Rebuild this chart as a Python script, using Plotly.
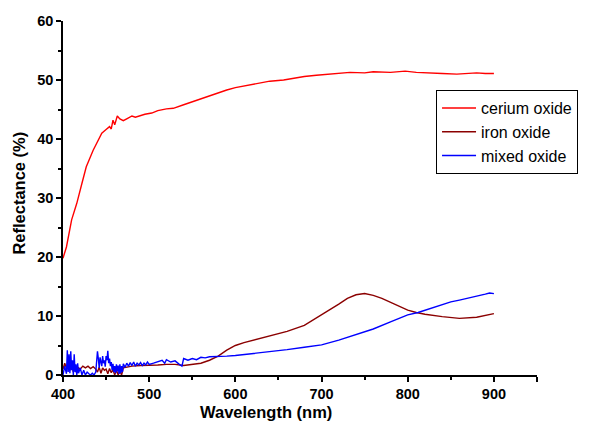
import plotly.graph_objects as go

ce_wl = [400, 404, 410, 416, 422, 427, 435, 440, 445, 450, 454, 456, 458, 460, 463, 466, 470, 475, 480, 484, 490, 495, 503,
         510, 520, 528, 540, 550, 560, 578, 590, 600, 617, 630, 640, 656, 670, 680, 694, 710, 720, 733, 750, 760, 780, 797,
         810, 820, 840, 857, 870, 880, 890, 900]
ce_val = [19.8, 21.7, 26.3, 29.1, 32.5, 35.3, 38.1, 39.6, 41.0, 41.6, 42.1, 41.7, 43.2, 42.4, 43.9, 43.4, 43.1, 43.5, 43.9, 43.7, 44.0, 44.2, 44.4,
          44.8, 45.1, 45.2, 45.8, 46.3, 46.9, 47.7, 48.3, 48.7, 49.2, 49.6, 49.8, 50.0, 50.4, 50.6, 50.8, 51.0, 51.2, 51.3, 51.2, 51.4, 51.3, 51.5,
          51.3, 51.2, 51.1, 51.0, 51.1, 51.2, 51.1, 51.1]

fe_wl = [400, 402, 404, 406, 408, 410, 412, 414, 416, 418, 420, 423, 426, 429, 432, 435, 438, 440, 442, 444, 446, 448, 450, 452,
         454, 456, 458, 460, 462, 464, 466, 468, 470, 475, 480, 490, 500, 510, 520, 530, 540, 550, 560, 570, 580, 590, 600,
         610, 620, 640, 650, 660, 680, 700, 710, 720, 730, 740, 750, 760, 770, 780, 790, 800, 810, 820, 840, 860, 880, 890, 900]
fe_val = [1.0, 2.0, 1.2, 2.3, 0.8, 1.8, 0.5, 1.4, 0.3, 1.2, 1.0, 1.5, 1.2, 1.5, 1.1, 1.4, 1.0, 0.5, 1.3, 0.3, 1.2, 0.8, 1.0, 0.2,
          1.1, 0.4, 0.9, 0.0, 0.8, 0.0, 0.7, 0.0, 1.2, 1.4, 1.5, 1.6, 1.6, 1.7, 1.8, 1.8, 1.6, 1.8, 2.0, 2.5, 3.2, 4.2, 5.0,
          5.5, 5.9, 6.6, 7.0, 7.4, 8.4, 10.2, 11.0, 12.0, 13.0, 13.6, 13.8, 13.5, 13.0, 12.3, 11.6, 11.0, 10.6, 10.3, 9.9, 9.6, 9.8, 10.1, 10.4]

mx_wl = [400, 402, 404, 405, 406, 407, 408, 409, 410, 411, 412, 413, 414, 415, 416, 417, 418, 420, 422, 424, 426, 428, 430, 432,
         434, 436, 438, 439, 440, 441, 442, 443, 444, 445, 446, 447, 448, 449, 450, 451, 452, 453, 454, 455, 456, 457, 458, 459,
         460, 461, 462, 463, 464, 465, 466, 467, 468, 469, 470, 472, 474, 476, 478, 480, 482, 484, 486, 488, 490, 492, 494, 496,
         498, 500, 505, 510, 515, 518, 520, 525, 530, 535, 538, 540, 545, 550, 555, 560, 565, 570, 580, 590, 600, 620, 640, 650,
         660, 680, 700, 720, 740, 750, 760, 780, 800, 812, 820, 840, 850, 860, 880, 890, 895, 900]
mx_val = [0.0, 1.5, 0.2, 4.2, 0.5, 3.5, 0.3, 4.0, 0.8, 2.5, 0.0, 3.5, 0.5, 1.8, 0.0, 2.0, 0.3, 1.2, 0.0, 0.8, 0.0, 0.5, 0.2, 0.0,
          0.3, 0.0, 0.5, 2.0, 4.0, 2.8, 1.2, 3.0, 2.2, 1.5, 3.2, 2.0, 2.5, 1.4, 3.2, 2.5, 4.1, 2.0, 2.8, 1.5, 2.2, 0.8, 1.9, 0.5,
          1.5, 0.3, 1.8, 0.6, 1.6, 0.2, 1.8, 0.3, 1.5, 0.5, 1.9, 1.3, 2.0, 1.5, 2.1, 1.6, 2.2, 1.5, 2.0, 1.7, 2.1, 1.6, 2.0, 1.7,
          2.2, 1.8, 2.0, 2.2, 2.5, 2.0, 2.6, 2.2, 2.4, 1.8, 1.5, 2.8, 2.5, 2.8, 2.6, 3.0, 2.9, 3.1, 3.1, 3.2, 3.3, 3.6, 3.9, 4.1,
          4.3, 4.7, 5.1, 5.9, 6.8, 7.3, 7.8, 9.0, 10.2, 10.6, 11.0, 12.0, 12.4, 12.7, 13.3, 13.7, 13.9, 13.8]

x_ticks = [400, 500, 600, 700, 800, 900, 950]
x_labels = ["400", "500", "600", "700", "800", "900", ""]
y_ticks = [0, 10, 20, 30, 40, 50, 60]

FONT = "Liberation Sans, Arial"

fig = go.Figure()
fig.add_trace(go.Scatter(x=ce_wl, y=ce_val, mode="lines", name="cerium oxide",
                         line=dict(color="#FF0000", width=1.4)))
fig.add_trace(go.Scatter(x=fe_wl, y=fe_val, mode="lines", name="iron oxide",
                         line=dict(color="#8B0000", width=1.4)))
fig.add_trace(go.Scatter(x=mx_wl, y=mx_val, mode="lines", name="mixed oxide",
                         line=dict(color="#0000FF", width=1.4)))

axis_common = dict(showline=True, linecolor="black", linewidth=1.5, ticks="outside", ticklen=5,
                   tickwidth=1.5, tickcolor="black", showgrid=False, zeroline=False,
                   tickfont=dict(family=FONT, size=14.5, color="black", weight="bold"),
                   mirror=False, automargin=False)

fig.update_layout(
    width=593, height=423,
    margin=dict(l=63, r=56, t=21, b=48),
    paper_bgcolor="white", plot_bgcolor="white",
    font=dict(family=FONT, color="black"),
    xaxis=dict(range=[400, 950], tickvals=x_ticks, ticktext=x_labels,
               minor=dict(ticks="outside", ticklen=3, tickwidth=1.5, tickcolor="black", dtick=50, tick0=400),
               **axis_common),
    yaxis=dict(range=[0, 60], tickvals=y_ticks,
               minor=dict(ticks="outside", ticklen=3, tickwidth=1.5, tickcolor="black", dtick=5, tick0=0),
               **axis_common),
    legend=dict(x=0.787, y=0.805, xanchor="left", yanchor="top",
                bgcolor="white", bordercolor="black", borderwidth=1,
                font=dict(family=FONT, size=16, color="black"),
                tracegroupgap=0, itemwidth=34),
    showlegend=True,
    annotations=[
        dict(text="Wavelength (nm)", xref="paper", yref="paper", x=0.428, y=-0.1356,
             xanchor="center", yanchor="bottom", showarrow=False,
             font=dict(family=FONT, size=16.5, color="black", weight="bold")),
        dict(text="Reflectance (%)", xref="paper", yref="paper", x=-0.093, y=0.515,
             xanchor="center", yanchor="middle", showarrow=False, textangle=-90,
             font=dict(family=FONT, size=16.5, color="black", weight="bold")),
    ],
)

fig.write_html("out.html")
